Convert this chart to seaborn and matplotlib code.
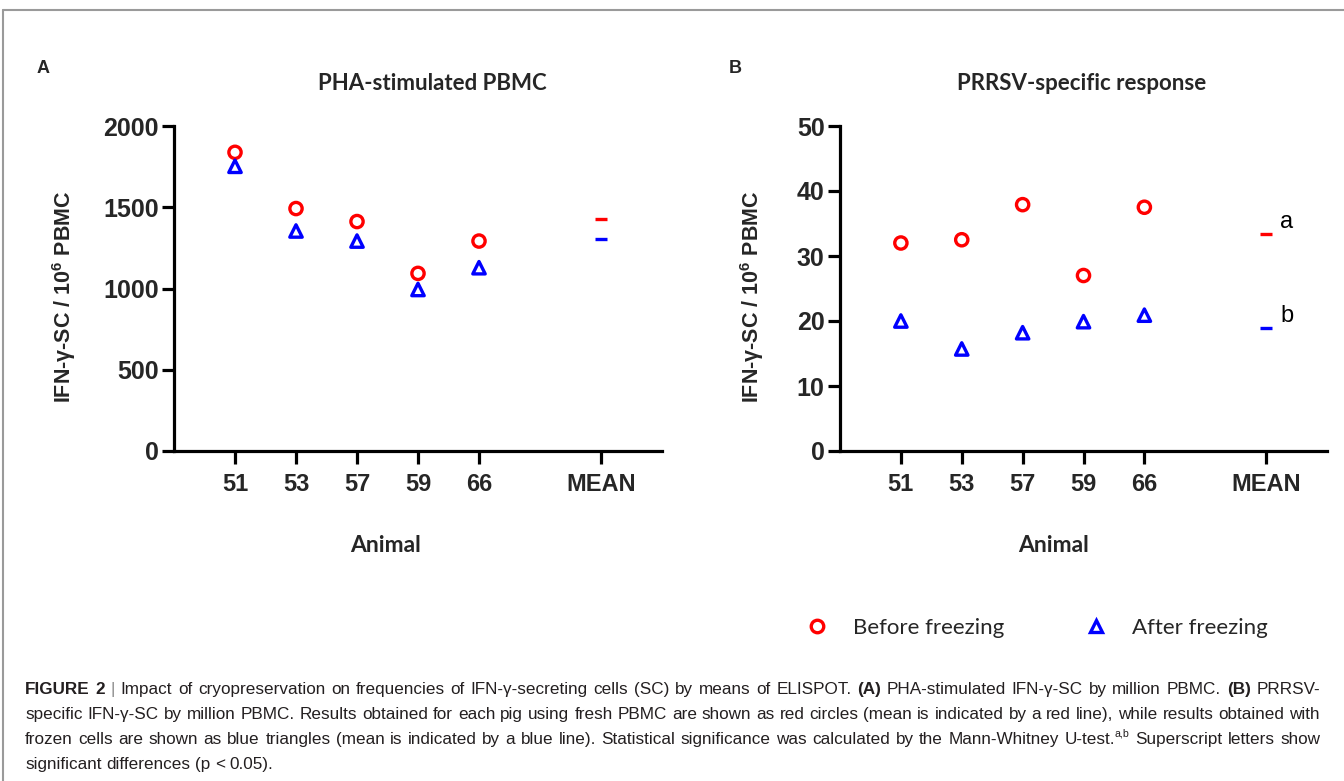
import numpy as np
import pandas as pd
import matplotlib
matplotlib.use("Agg")
import matplotlib.pyplot as plt
from matplotlib.lines import Line2D
from matplotlib import font_manager
import seaborn as sns

# ---------------- data ----------------
animals = ["51", "53", "57", "59", "66"]
mean_label = "MEAN"
conditions = ["Before freezing", "After freezing"]
pha_before = [1838, 1492, 1412, 1093, 1292]
pha_after = [1752, 1354, 1292, 994, 1128]
prrsv_before = [32.0, 32.5, 37.9, 27.0, 37.5]
prrsv_after = [20.0, 15.7, 18.2, 19.9, 20.9]
pha_yticks = [0, 500, 1000, 1500, 2000]
prrsv_yticks = [0, 10, 20, 30, 40, 50]
panel_titles = ["PHA-stimulated PBMC", "PRRSV-specific response"]
panel_letters = ["A", "B"]
sig_letters = ["a", "b"]
x_label = "Animal"
y_label = r"IFN-γ-SC / 10$^{\mathbf{6}}$ PBMC"
caption_lines = [
    "**FIGURE 2** | Impact of cryopreservation on frequencies of IFN-γ-secreting cells (SC) by means of ELISPOT. **(A)** PHA-stimulated IFN-γ-SC by million PBMC. **(B)** PRRSV-",
    "specific IFN-γ-SC by million PBMC. Results obtained for each pig using fresh PBMC are shown as red circles (mean is indicated by a red line), while results obtained with",
    "frozen cells are shown as blue triangles (mean is indicated by a blue line). Statistical significance was calculated by the Mann-Whitney U-test.^{a,b} Superscript letters show",
    "significant differences (p < 0.05).",
]

RED = "#ff0000"
BLUE = "#0000ff"

sns.set_style("white")
installed = {f.name for f in font_manager.fontManager.ttflist}
ARIAL = "Liberation Sans"
CALIBRI = "Lato" if "Lato" in installed else "DejaVu Sans"
CAPFONT = "Liberation Sans Narrow" if "Liberation Sans Narrow" in installed else "Liberation Sans"
plt.rcParams["font.family"] = [ARIAL, "DejaVu Sans"]
plt.rcParams["mathtext.fontset"] = "custom"
plt.rcParams["mathtext.rm"] = ARIAL
plt.rcParams["mathtext.bf"] = ARIAL + ":bold"

W, H = 1344, 781
fig = plt.figure(figsize=(W / 100, H / 100), dpi=100)
fig.patch.set_facecolor("white")


def fx(px):
    return px / W


def fy(py):
    return 1 - py / H


axA = fig.add_axes([fx(174), fy(451), fx(662) - fx(174), fy(126) - fy(451)])
axB = fig.add_axes([fx(840), fy(451), fx(1327) - fx(840), fy(126) - fy(451)])


def draw_panel(ax, before, after, yticks, sig=None):
    pos = np.arange(1, len(animals) + 1)
    mean_pos = len(animals) + 2
    df_b = pd.DataFrame({"pos": pos, "value": before})
    df_a = pd.DataFrame({"pos": pos, "value": after})
    sns.scatterplot(data=df_b, x="pos", y="value", marker="o", s=78, color=RED,
                    facecolor="none", edgecolor=RED, linewidth=2.4, ax=ax,
                    legend=False, zorder=3)
    ax.collections[-1].set_facecolor("none")
    sns.scatterplot(data=df_a, x="pos", y="value", marker="^", s=80, color=BLUE,
                    facecolor="none", edgecolor=BLUE, linewidth=2.4, ax=ax,
                    legend=False, zorder=3)
    ax.collections[-1].set_facecolor("none")
    means = pd.DataFrame({"pos": [mean_pos, mean_pos],
                          "value": [np.mean(before), np.mean(after)],
                          "cond": conditions})
    sns.scatterplot(data=means, x="pos", y="value", hue="cond",
                    palette=[RED, BLUE], marker="_", s=80, linewidth=2.4,
                    ax=ax, legend=False, zorder=3)
    if sig is not None:
        for letter, val in zip(sig, means["value"]):
            ax.annotate(letter, xy=(mean_pos, val), xytext=(10, 4),
                        textcoords="offset points", ha="left", va="baseline",
                        fontsize=17, family=ARIAL, color="black")
    ax.set_xlim(0, 8)
    ax.set_ylim(yticks[0], yticks[-1])
    ax.set_yticks(yticks)
    ax.set_xticks(list(pos) + [mean_pos])
    ax.set_xticklabels(animals + [mean_label])
    ax.set_xlabel("")
    ax.set_ylabel("")
    for s in ["top", "right"]:
        ax.spines[s].set_visible(False)
    for s in ["left", "bottom"]:
        ax.spines[s].set_linewidth(2.3)
        ax.spines[s].set_color("black")
    ax.tick_params(axis="both", direction="out", length=9, width=2.3,
                   color="black", labelsize=17, left=True, bottom=True)
    ax.tick_params(axis="x", pad=7)
    ax.tick_params(axis="y", pad=2, labelsize=18)
    for lab in ax.get_xticklabels() + ax.get_yticklabels():
        lab.set_fontweight("bold")
        lab.set_family(ARIAL)
    ax.set_facecolor("white")


draw_panel(axA, pha_before, pha_after, pha_yticks)
draw_panel(axB, prrsv_before, prrsv_after, prrsv_yticks, sig=sig_letters)

# panel letters, titles, axis labels
fig.text(fx(37), fy(73), panel_letters[0], fontsize=13, fontweight="bold", family=ARIAL, va="baseline")
fig.text(fx(729), fy(73), panel_letters[1], fontsize=13, fontweight="bold", family=ARIAL, va="baseline")
fig.text(fx(432), fy(83), panel_titles[0], fontsize=16, fontweight="bold", family=CALIBRI, ha="center", va="center")
fig.text(fx(1082), fy(83), panel_titles[1], fontsize=16, fontweight="bold", family=CALIBRI, ha="center", va="center")
fig.text(fx(385), fy(546), x_label, fontsize=16.5, fontweight="bold", family=CALIBRI, ha="center", va="center")
fig.text(fx(1054), fy(546), x_label, fontsize=16.5, fontweight="bold", family=CALIBRI, ha="center", va="center")
fig.text(fx(64), fy(297), y_label, fontsize=15.5, fontweight="bold", family=ARIAL, rotation=90, ha="center", va="center")
fig.text(fx(752), fy(297), y_label, fontsize=15.5, fontweight="bold", family=ARIAL, rotation=90, ha="center", va="center")

# legend
handles = [
    Line2D([], [], ls="none", marker="o", mfc="none", mec=RED, mew=2.4, ms=9),
    Line2D([], [], ls="none", marker="^", mfc="none", mec=BLUE, mew=2.4, ms=9),
]
fig.legend(handles, conditions, loc="center left", bbox_to_anchor=(fx(806), fy(628)),
           ncol=2, frameon=False, borderpad=0, borderaxespad=0, handlelength=1.0,
           handletextpad=1.1, columnspacing=3.65,
           prop={"family": CALIBRI, "size": 16})

# frame
fig.add_artist(Line2D([fx(3), fx(W)], [fy(10), fy(10)], color="#9a9a9a", lw=1.5, transform=fig.transFigure))
fig.add_artist(Line2D([fx(3), fx(3)], [fy(10), fy(H)], color="#9a9a9a", lw=1.5, transform=fig.transFigure))

# caption (rich text, justified)
renderer = fig.canvas.get_renderer()
CAP_COLOR = "#231f20"
cap_state = {"size": 10.0}


def parse_words(line):
    words, cur = [], []
    state = {"bold": False, "sup": False, "buf": ""}

    def flush():
        if state["buf"]:
            cur.append((state["buf"], state["bold"], state["sup"]))
            state["buf"] = ""

    i = 0
    while i < len(line):
        if line.startswith("**", i):
            flush(); state["bold"] = not state["bold"]; i += 2; continue
        if line.startswith("^{", i):
            flush(); state["sup"] = True; i += 2; continue
        if line[i] == "}" and state["sup"]:
            flush(); state["sup"] = False; i += 1; continue
        if line[i] == " ":
            flush()
            if cur:
                words.append(list(cur)); cur.clear()
            i += 1; continue
        state["buf"] += line[i]; i += 1
    flush()
    if cur:
        words.append(list(cur))
    return words


def run_kwargs(text, bold, sup):
    kw = dict(fontsize=cap_state["size"] * (0.62 if sup else 1.0),
              fontweight="bold" if bold else "normal",
              family=CAPFONT, color=CAP_COLOR)
    if text == "|":
        kw["color"] = "#8a8a8a"
    return kw


def run_width(text, bold, sup):
    t = fig.text(0, 0, text, **run_kwargs(text, bold, sup))
    w = t.get_window_extent(renderer).width
    t.remove()
    return w


x_left, x_right = 25, 1320
parsed = [parse_words(l) for l in caption_lines]


def natural_width(words):
    sw = run_width("x x", False, False) - run_width("xx", False, False)
    return sum(run_width(*r) for w in words for r in w) + sw * (len(words) - 1)


widest = max(natural_width(w) for w in parsed)
cap_state["size"] = 10.0 * (x_right - x_left) / widest * 0.995

space_w = run_width("x x", False, False) - run_width("xx", False, False)
baselines = [694, 719, 744, 769]
for li, (words, yb) in enumerate(zip(parsed, baselines)):
    widths = [[run_width(*r) for r in w] for w in words]
    total = sum(sum(w) for w in widths)
    justify = li < len(parsed) - 1
    gap = (x_right - x_left - total) / (len(words) - 1) if justify else space_w
    x = x_left
    for w, ws in zip(words, widths):
        for (text, bold, sup), rw in zip(w, ws):
            yy = yb - (7 if sup else 0)
            fig.text(fx(x), fy(yy), text, va="baseline", ha="left", **run_kwargs(text, bold, sup))
            x += rw
        x += gap

fig.savefig("out.png", dpi=100, facecolor="white")
